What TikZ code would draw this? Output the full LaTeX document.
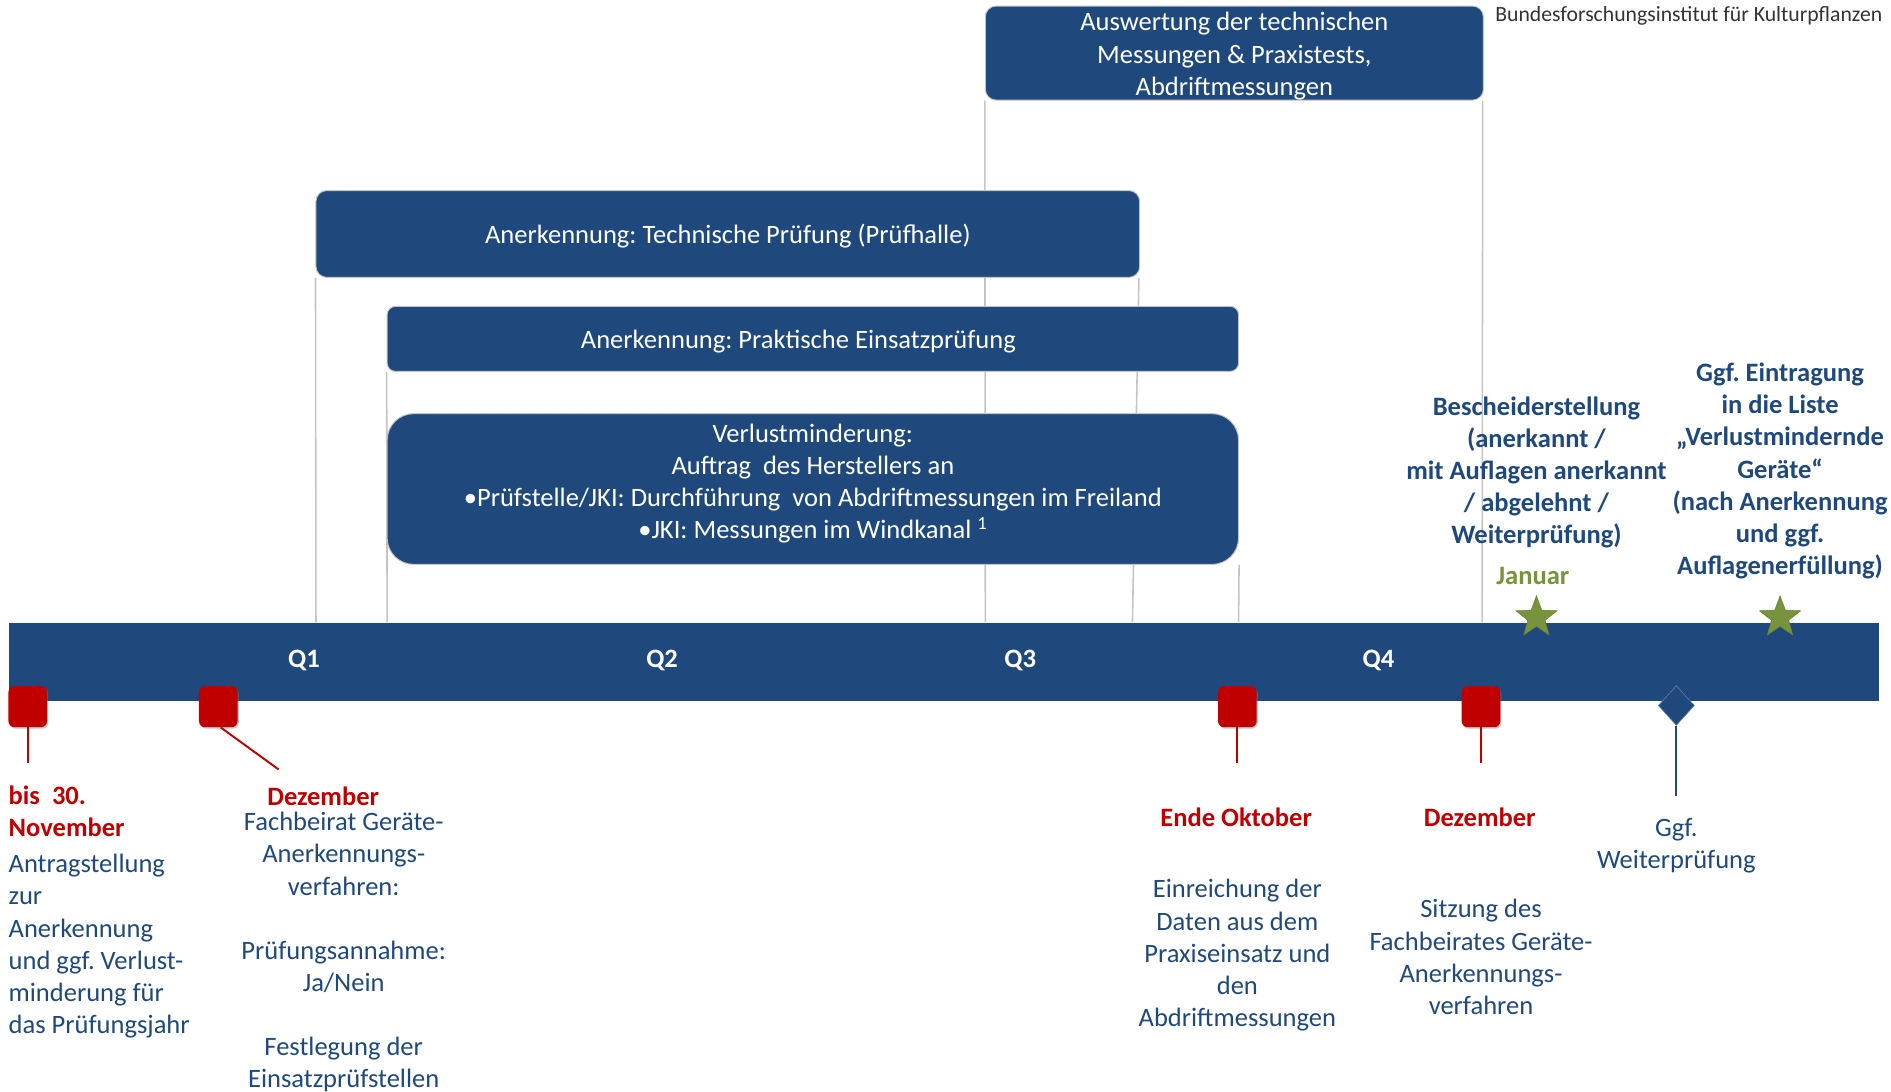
\documentclass[tikz,border=0pt]{standalone}
\usepackage{fontspec}
\setmainfont{Carlito}
\frenchspacing
\usetikzlibrary{shapes.geometric,shadows,backgrounds}
\definecolor{dblue}{RGB}{31,73,125}
\definecolor{dred}{RGB}{192,0,0}
\definecolor{olivegr}{RGB}{119,147,60}
\definecolor{lgray}{RGB}{196,196,196}
\begin{document}
\begin{tikzpicture}[x=1bp,y=-1bp,
  txt/.style={font=\fontsize{22bp}{26.6bp}\selectfont, inner sep=0pt, align=center, yshift=-2bp},
  bluebox/.style={txt, draw=lgray, line width=0.8bp, fill=dblue, text=white, rounded corners=9bp},
  boxtext/.style={txt, text=white},
  gline/.style={draw=lgray, line width=1.3bp},
  marker/.style={rectangle, rounded corners=5bp, fill=dred, minimum width=32bp, minimum height=34bp, inner sep=0pt,
     drop shadow={opacity=0.45, shadow xshift=1bp, shadow yshift=-1.2bp}},
  redstem/.style={draw=dred, line width=1.6bp},
  bluestem/.style={draw=dblue, line width=1.6bp},
  redlabel/.style={txt, text=dred, font=\fontsize{22bp}{26.6bp}\selectfont\bfseries},
  bluetext/.style={txt, text=dblue},
  boldblue/.style={txt, text=dblue, font=\fontsize{22bp}{26.6bp}\selectfont\bfseries},
  qlabel/.style={txt, text=white, font=\fontsize{22bp}{26.6bp}\selectfont\bfseries},
  starmark/.style={star, star points=5, star point ratio=2.4, minimum size=36bp, inner sep=0pt, fill=olivegr, draw=olivegr!85!black, line width=0.4bp}
]
\useasboundingbox (0,0) rectangle (1568,905);

% header
\node[txt, anchor=east, text=black!80, font=\fontsize{18bp}{20bp}\selectfont] (inst) at (1561,11) {Bundesforschungsinstitut für Kulturpflanzen};

% task boxes
\node[bluebox, minimum width=413bp, minimum height=78bp, yshift=2bp] (boxA) at (1023.5,44) {};
\node[boxtext] (textA) at (1023.5,44.5) {Auswertung der technischen\\Messungen \& Praxistests,\\Abdriftmessungen};
\node[bluebox, minimum width=683bp, minimum height=72bp, yshift=2bp] (boxB) at (603.5,194) {};
\node[boxtext] (textB) at (603.5,194) {Anerkennung: Technische Prüfung (Prüfhalle)};
\node[bluebox, minimum width=706bp, minimum height=54bp, rounded corners=7bp, yshift=2bp] (boxC) at (674,281) {};
\node[boxtext] (textC) at (662,281) {Anerkennung: Praktische Einsatzprüfung};
\node[bluebox, minimum width=706bp, minimum height=125bp, rounded corners=22bp, yshift=2bp] (boxD) at (674,405.5) {};
\node[boxtext] (textD) at (674,399) {Verlustminderung:\\Auftrag~ des Herstellers an\\•Prüfstelle/JKI: Durchführung~ von Abdriftmessungen im Freiland\\•JKI: Messungen im Windkanal \textsuperscript{1}};

% timeline bar
\node[rectangle, fill=dblue, minimum width=1551bp, minimum height=65bp, inner sep=0pt, anchor=north west] (bar) at (7,516) {};
\node[qlabel] (q1) at (252,546) {Q1};
\node[qlabel] (q2) at (549,546) {Q2};
\node[qlabel] (q3) at (846,546) {Q3};
\node[qlabel] (q4) at (1143,546) {Q4};

% grey guide lines (behind)
\coordinate (g1) at (262,516);
\coordinate (g2) at (321,516);
\coordinate (g3) at (817,516);
\coordinate (g4) at (939,516);
\coordinate (g5) at (1027,516);
\coordinate (g6) at (1229,516);
\begin{scope}[on background layer]
\draw[gline] (boxB.south west) -- (g1);
\draw[gline] (boxC.south west) -- (g2);
\draw[gline] (boxA.south west) -- (g3);
\draw[gline] ([xshift=-1bp]boxB.south east) -- (g4);
\draw[gline] (boxD.south east) -- (g5);
\draw[gline] ([xshift=-1bp]boxA.south east) -- (g6);
\end{scope}

% stars
\node[starmark] (star1) at (1274,512) {};
\node[starmark] (star2) at (1476,512) {};

% red markers
\node[marker] (m1) at (23,586) {};
\node[marker] (m2) at (181,586) {};
\node[marker] (m3) at (1026,586) {};
\node[marker] (m4) at (1228,586) {};
\coordinate (e1) at (23,633);
\coordinate (e2) at (231,638);
\coordinate (e3) at (1026,633);
\coordinate (e4) at (1228,633);
\draw[redstem] (m1.south) -- (e1);
\draw[redstem] ([xshift=2bp]m2.south) -- (e2);
\draw[redstem] (m3.south) -- (e3);
\draw[redstem] (m4.south) -- (e4);

% diamond
\node[diamond, fill=dblue, draw=dblue!70!white, line width=0.5bp, minimum width=30bp, minimum height=33bp, inner sep=0pt] (dia) at (1390,585) {};
\coordinate (e5) at (1390,660);
\draw[bluestem] (dia.south) -- (e5);

% texts below
\node[redlabel, anchor=west, align=left] (nov) at (7,671) {bis~ 30.\\November};
\node[bluetext, anchor=west, align=left] (antrag) at (7,782.5) {Antragstellung\\zur\\Anerkennung\\und ggf. Verlust-\\minderung für\\das Prüfungsjahr};
\node[redlabel] (dez1) at (268,658) {Dezember};
\node[bluetext] (fach1) at (285,787.5) {Fachbeirat Geräte-\\Anerkennungs-\\verfahren:\\[26.6bp]Prüfungsannahme:\\Ja/Nein\\[26.6bp]Festlegung der\\Einsatzprüfstellen};
\node[redlabel] (okt) at (1025,676) {Ende Oktober};
\node[bluetext] (einr) at (1026,790) {Einreichung der\\Daten aus dem\\Praxiseinsatz und\\den\\Abdriftmessungen};
\node[redlabel] (dez2) at (1227,676) {Dezember};
\node[bluetext] (sitz) at (1228,791.5) {Sitzung des\\Fachbeirates Geräte-\\Anerkennungs-\\verfahren};
\node[bluetext] (weit) at (1390,699.5) {Ggf.\\Weiterprüfung};

% texts above right
\node[boldblue] (besch) at (1274,389.5) {Bescheiderstellung\\(anerkannt /\\mit Auflagen anerkannt\\/ abgelehnt /\\Weiterprüfung)};
\node[txt, text=olivegr, font=\fontsize{22bp}{26.6bp}\selectfont\bfseries] (jan) at (1271,476) {Januar};
\node[boldblue] (eintr) at (1476,388.5) {Ggf. Eintragung\\in die Liste\\„Verlustmindernde\\Geräte“\\(nach Anerkennung\\und ggf.\\Auflagenerfüllung)};
\end{tikzpicture}
\end{document}
